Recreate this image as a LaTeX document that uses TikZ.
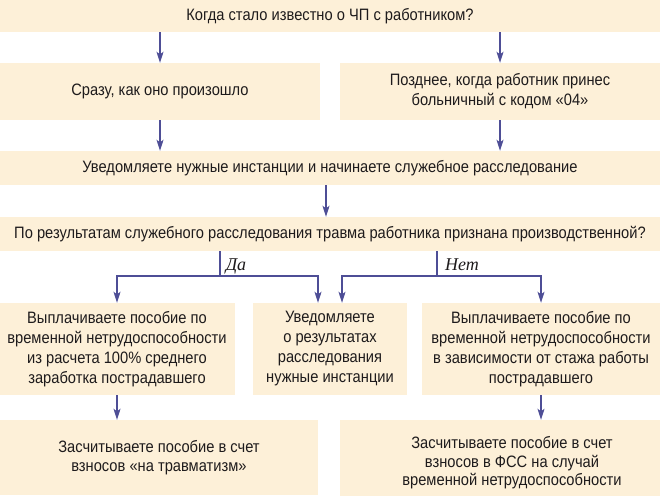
\documentclass[tikz,border=0pt]{standalone}
\usepackage{fontspec}
\setmainfont{Liberation Sans}[FakeStretch=0.89]
\newfontfamily\lblfont{Liberation Serif}
\usetikzlibrary{arrows.meta,positioning}
\definecolor{boxc}{RGB}{253,240,216}
\definecolor{arrc}{RGB}{78,78,150}
\definecolor{txtc}{RGB}{30,27,28}
\tikzset{
  x=1pt,y=-1pt,
  box/.style={fill=boxc,draw=none,inner sep=0pt,align=center,text=txtc,
    font=\fontsize{16.5}{20}\selectfont},
  arr/.style={draw=arrc,line width=1.2pt,-{Stealth[length=11pt,width=7pt,inset=2.5pt]}},
  ln/.style={draw=arrc,line width=1.2pt},
  lbl/.style={font=\lblfont\itshape\fontsize{18}{20}\selectfont,text=txtc,inner sep=0pt}
}
\begin{document}
\begin{tikzpicture}
\useasboundingbox (0,0) rectangle (660,495);
% boxes
\node[box,minimum width=700pt,minimum height=32pt] (top) at (330,16) {Когда стало известно о ЧП с работником?};
\node[box,minimum width=320pt,minimum height=57pt] (r2L) at (160,91.5) {Сразу, как оно произошло};
\node[box,minimum width=320pt,minimum height=57pt] (r2R) at (500,91.5) {Позднее, когда работник принес\\больничный с кодом «04»};
\node[box,minimum width=700pt,minimum height=34pt] (r3) at (330,168) {Уведомляете нужные инстанции и начинаете служебное расследование};
\node[box,minimum width=700pt,minimum height=34pt] (r4) at (330,234) {По результатам служебного расследования травма работника признана производственной?};
\node[box,minimum width=236pt,minimum height=92pt] (r5L) at (117,349) {Выплачиваете пособие по\\временной нетрудоспособности\\из расчета 100\% среднего\\заработка пострадавшего};
\node[box,minimum width=154pt,minimum height=92pt] (r5M) at (330,349) {Уведомляете\\о результатах\\расследования\\нужные инстанции};
\node[box,minimum width=238pt,minimum height=92pt] (r5R) at (541,349) {Выплачиваете пособие по\\временной нетрудоспособности\\в зависимости от стажа работы\\пострадавшего};
\node[box,minimum width=318pt,minimum height=75pt,font=\fontsize{16.5}{19}\selectfont] (r6L) at (159,457.5) {Засчитываете пособие в счет\\взносов «на травматизм»};
\node[box,minimum width=344pt,minimum height=86pt,font=\fontsize{16.5}{18.5}\selectfont] (r6R) at (512,463) {Засчитываете пособие в счет\\взносов в ФСС на случай\\временной нетрудоспособности};
% connectors
\draw[arr] (r2L.north |- top.south) -- (r2L.north);
\draw[arr] (r2R.north |- top.south) -- (r2R.north);
\draw[arr] (r2L.south) -- (r2L.south |- r3.north);
\draw[arr] (r2R.south) -- (r2R.south |- r3.north);
\draw[arr] ([xshift=-4pt]r3.south) -- ([xshift=-4pt]r4.north);
% Yes branch
\coordinate (da) at (220,276);
\coordinate (daR) at (318,276);
\draw[ln] (r4.south -| da) -- (da);
\draw[arr] (da) -| (r5L.north);
\draw[arr] (da) -- (daR) -- (daR |- r5M.north);
\node[lbl] (dalbl) at (236,266) {Да};
% No branch
\coordinate (net) at (437,276);
\coordinate (netL) at (342,276);
\draw[ln] (r4.south -| net) -- (net);
\draw[arr] (net) -- (netL) -- (netL |- r5M.north);
\draw[arr] (net) -| (r5R.north);
\node[lbl] (netlbl) at (462,265) {Нет};
% row 5 -> row 6
\draw[arr] (r5L.south) -- (r5L.south |- r6L.north);
\draw[arr] (r5R.south) -- (r5R.south |- r6R.north);
\end{tikzpicture}
\end{document}
